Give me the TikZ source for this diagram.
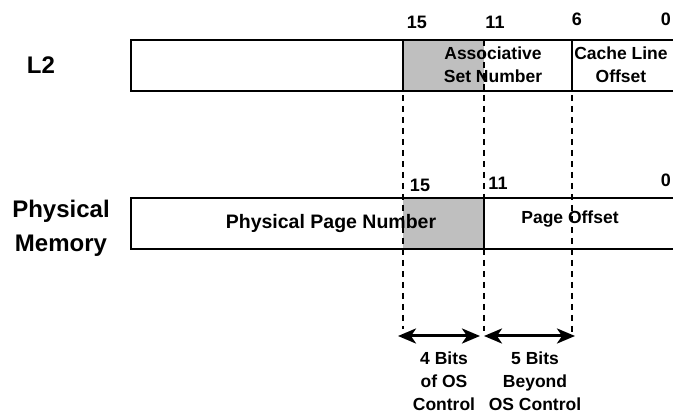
\documentclass[tikz,border=0pt]{standalone}
\usepackage{fontspec}
\setmainfont{Liberation Sans}
\usetikzlibrary{arrows.meta}

\definecolor{cellgrey}{gray}{0.75}

\tikzset{
	field/.style={line width=2.8pt},
	guide/.style={line width=2pt, dash pattern=on 6pt off 5pt},
	span/.style={line width=3pt, {Stealth[length=18pt,width=15pt,inset=5pt]}-{Stealth[length=18pt,width=15pt,inset=5pt]}},
	lbl/.style={font=\bfseries\fontsize{17.5}{23}\selectfont, align=center, inner sep=0pt},
	bitno/.style={font=\bfseries\fontsize{18}{20}\selectfont, inner sep=0pt},
	title/.style={font=\bfseries\fontsize{24}{34}\selectfont, align=center, inner sep=0pt}
}

\begin{document}
\begin{tikzpicture}[x=1pt,y=-1pt]
	\clip (0,0) rectangle (673,414);

	%bit boundaries
	\coordinate (b15) at (403,40);
	\coordinate (b11) at (484,40);
	\coordinate (b6) at (572,40);
	\coordinate (e15) at (403,329);
	\coordinate (e11) at (484,331);
	\coordinate (e6) at (572,336);

	%L2 tag
	\fill[cellgrey] (403,40) rectangle (484,91);
	\draw[field] (131,40) rectangle (700,91);
	\draw[field] (403,40)--(403,91);	%grey left
	\draw[field] (572,40)--(572,91);	%offset left
	\node[title] (l2) at (41,65) {L2};
		\node[lbl] (setno) at (493,65) {Associative\\Set Number};
		\node[lbl] (lineoff) at (621,65) {Cache Line\\Offset};

	%physical memory
	\fill[cellgrey] (403,198) rectangle (484,249);
	\draw[field] (131,198) rectangle (700,249);
	\draw[field] (484,198)--(484,249);	%page offset left
	\node[title] (pm) at (61,228) {Physical\\Memory};
		\node[lbl,font=\bfseries\fontsize{19.5}{23}\selectfont] (ppn) at (331,224) {Physical Page Number};
		\node[lbl] (pgoff) at (570,219) {Page Offset};

	%dashed guides
	\draw[guide] (b15)--(e15);
	\draw[guide] (b11)--(e11);
	\draw[guide] (b6)--(e6);

	%bit numbers
	\node[bitno] (t15) at (417,22) {15};
	\node[bitno] (t11) at (495,22) {11};
	\node[bitno] (t6) at (577,19) {6};
	\node[bitno] (t0) at (666,19) {0};
	%
	\node[bitno] (p15) at (420,185) {15};
	\node[bitno] (p11) at (498,183) {11};
	\node[bitno] (p0) at (666,180) {0};

	%spans
	\coordinate (a1) at (398,336);
	\coordinate (a2) at (480,336);
	\coordinate (a3) at (484,336);
	\coordinate (a4) at (575,336);
	\draw[span] (a1)--(a2);
	\draw[span] (a3)--(a4);
	\node[lbl] (os) at (444,381) {4 Bits\\of OS\\Control};
	\node[lbl] (beyond) at (535,381) {5 Bits\\Beyond\\OS Control};
\end{tikzpicture}
\end{document}
